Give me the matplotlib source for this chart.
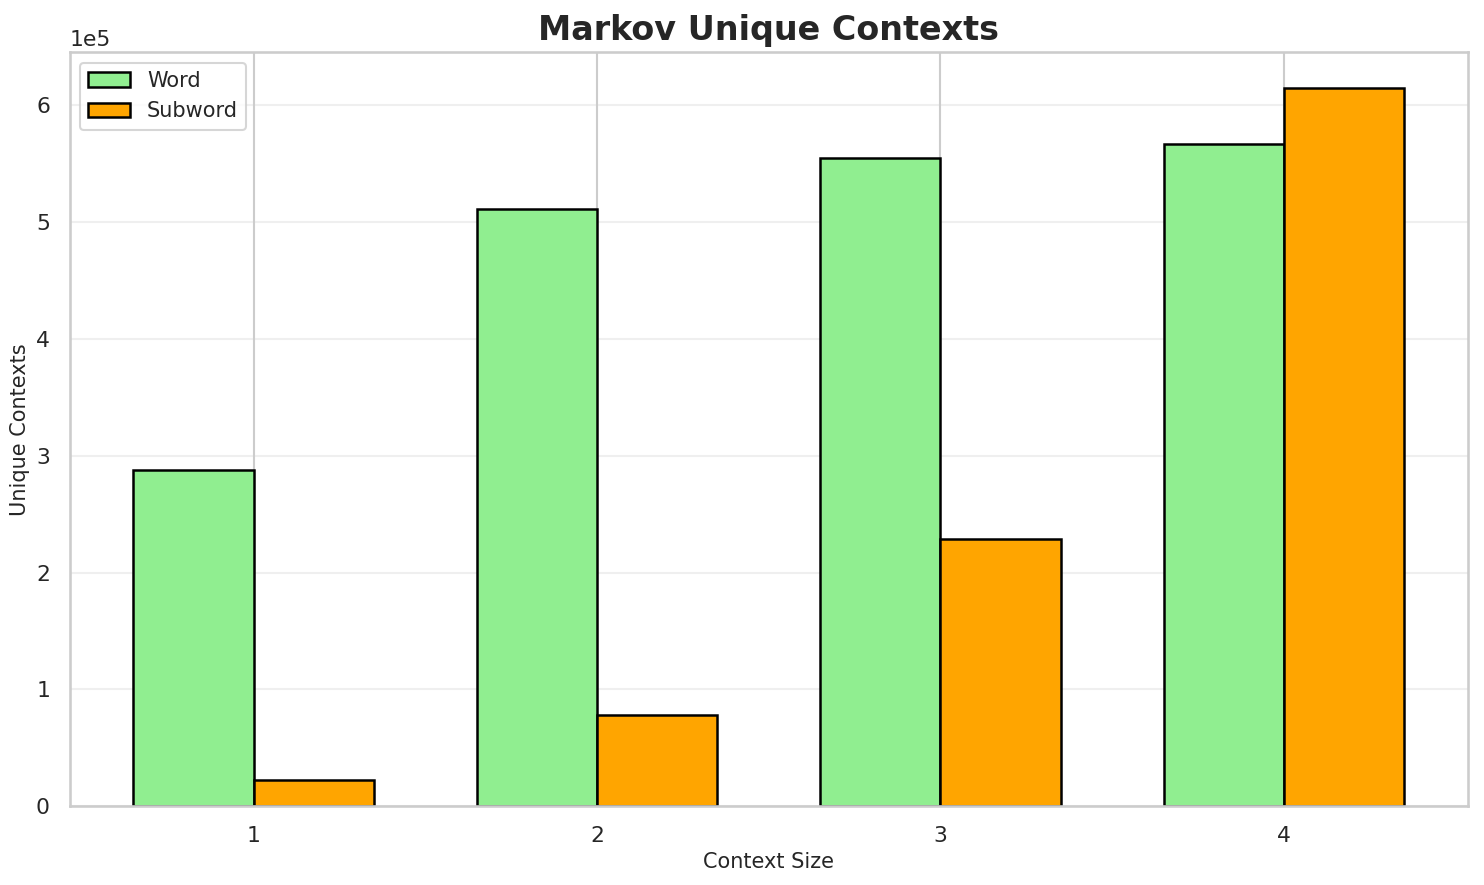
import numpy as np
import matplotlib
matplotlib.use("Agg")
import matplotlib.pyplot as plt
import seaborn as sns

# Datos
context_sizes = [1, 2, 3, 4]
word_contexts = [288000, 511000, 554500, 566500]
subword_contexts = [22300, 78000, 229000, 614500]

sns.set_theme(style="whitegrid")

fig, ax = plt.subplots(figsize=(1484 / 150, 885 / 150), dpi=150)

x = np.array(context_sizes)
width = 0.35
ax.bar(x - width / 2, word_contexts, width, label="Word", color="lightgreen",
       edgecolor="black", linewidth=1.2)
ax.bar(x + width / 2, subword_contexts, width, label="Subword", color="orange",
       edgecolor="black", linewidth=1.2)

ax.set_xticks(x)
ax.set_xlabel("Context Size", fontsize=10, labelpad=3)
ax.set_ylabel("Unique Contexts", fontsize=10, labelpad=3)
ax.set_title("Markov Unique Contexts", fontsize=16, fontweight="bold")
ax.tick_params(labelsize=10.5)
ax.ticklabel_format(axis="y", style="sci", scilimits=(0, 0))
ax.yaxis.get_offset_text().set_fontsize(10.5)
ax.grid(axis="y", alpha=0.3)
ax.legend(loc="upper left", fontsize=10)

fig.subplots_adjust(left=0.047, right=0.989, top=0.941, bottom=0.089)
plt.savefig("out.png", dpi=150)
